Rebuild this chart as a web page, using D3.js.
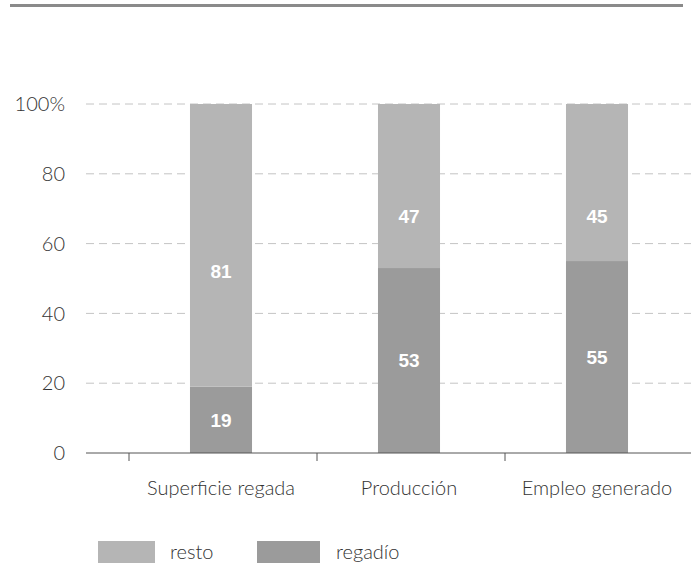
<!DOCTYPE html>
<html>
<head>
<meta charset="utf-8">
<script src="https://cdn.jsdelivr.net/npm/d3@7"></script>
<style>
    body { margin: 0; background: #fff; }
    svg { display: block; font-family: Lato, "Liberation Sans", Arial, sans-serif; }
</style>
</head>
<body>
<div id="chart"></div>
<script>
const categories = ['Superficie regada', 'Producción', 'Empleo generado'];
const regadio = [19, 53, 55];
const resto = [81, 47, 45];
// where the upper numbers sit on the bar, in percent
const restoLabelAt = [52, 68, 68];
const yTicks = [0, 20, 40, 60, 80, 100];
const seriesNames = ['resto', 'regadío'];

const W = 691, H = 567;
const COLOR_RESTO = '#b5b5b5';
const COLOR_REGADIO = '#9b9b9b';

const svg = d3.select('#chart').append('svg')
    .attr('width', W)
    .attr('height', H);

// top rule
svg.append('rect')
    .attr('x', 10).attr('y', 4)
    .attr('width', 673).attr('height', 3)
    .attr('fill', '#8a8a8a');

const y = d3.scaleLinear().domain([0, 100]).range([453, 104]);
const x = d3.scaleBand().domain(categories).range([127, 691]).padding(0);
const barW = x.bandwidth() * 0.33;
const cx = d => x(d) + x.bandwidth() / 2;

// grid
svg.append('g')
    .selectAll('line')
    .data(yTicks.filter(t => t > 0))
    .enter()
    .append('line')
    .attr('x1', 86).attr('x2', 691)
    .attr('y1', d => y(d)).attr('y2', d => y(d))
    .attr('stroke', '#c4c4c4')
    .attr('stroke-width', 1)
    .attr('stroke-dasharray', '8,5');

// y labels
svg.append('g')
    .selectAll('text')
    .data(yTicks)
    .enter()
    .append('text')
    .attr('x', 65)
    .attr('y', d => y(d))
    .attr('dy', '0.36em')
    .attr('text-anchor', 'end')
    .attr('font-size', 20)
    .attr('font-weight', 300)
    .attr('fill', '#333')
    .text(d => d === 100 ? '100%' : d);

// bars
const bars = svg.append('g');
bars.selectAll('rect.regadio')
    .data(categories)
    .enter()
    .append('rect')
    .attr('class', 'regadio')
    .attr('x', d => cx(d) - barW / 2)
    .attr('width', barW)
    .attr('y', (d, i) => y(regadio[i]))
    .attr('height', (d, i) => y(0) - y(regadio[i]))
    .attr('fill', COLOR_REGADIO);

bars.selectAll('rect.resto')
    .data(categories)
    .enter()
    .append('rect')
    .attr('class', 'resto')
    .attr('x', d => cx(d) - barW / 2)
    .attr('width', barW)
    .attr('y', (d, i) => y(regadio[i] + resto[i]))
    .attr('height', (d, i) => y(regadio[i]) - y(regadio[i] + resto[i]))
    .attr('fill', COLOR_RESTO);

// bar numbers
const labels = svg.append('g')
    .attr('font-family', '"Liberation Sans", Arial, sans-serif')
    .attr('font-size', 19)
    .attr('font-weight', 'bold')
    .attr('fill', '#fff')
    .attr('text-anchor', 'middle');

labels.selectAll('text.lo')
    .data(categories)
    .enter()
    .append('text')
    .attr('x', d => cx(d))
    .attr('y', (d, i) => y(regadio[i] / 2))
    .attr('dy', '0.36em')
    .text((d, i) => regadio[i]);

labels.selectAll('text.hi')
    .data(categories)
    .enter()
    .append('text')
    .attr('x', d => cx(d))
    .attr('y', (d, i) => y(restoLabelAt[i]))
    .attr('dy', '0.36em')
    .text((d, i) => resto[i]);

// x axis
svg.append('line')
    .attr('x1', 86).attr('x2', 691)
    .attr('y1', y(0)).attr('y2', y(0))
    .attr('stroke', '#555');

svg.append('g')
    .selectAll('line')
    .data(d3.range(categories.length + 1))
    .enter()
    .append('line')
    .attr('x1', i => 129 + i * x.step()).attr('x2', i => 129 + i * x.step())
    .attr('y1', y(0)).attr('y2', y(0) + 8)
    .attr('stroke', '#555');

svg.append('g')
    .selectAll('text')
    .data(categories)
    .enter()
    .append('text')
    .attr('x', d => cx(d))
    .attr('y', 495)
    .attr('text-anchor', 'middle')
    .attr('font-size', 20)
    .attr('font-weight', 300)
    .attr('fill', '#333')
    .text(d => d);

// legend
const legend = svg.append('g');
const legendX = [98, 257];
const legendColors = [COLOR_RESTO, COLOR_REGADIO];
legend.selectAll('rect')
    .data(seriesNames)
    .enter()
    .append('rect')
    .attr('x', (d, i) => legendX[i])
    .attr('y', 541)
    .attr('width', (d, i) => i === 0 ? 57 : 63)
    .attr('height', 22)
    .attr('fill', (d, i) => legendColors[i]);

legend.selectAll('text')
    .data(seriesNames)
    .enter()
    .append('text')
    .attr('x', (d, i) => legendX[i] + (i === 0 ? 72 : 79))
    .attr('y', 559)
    .attr('font-size', 20)
    .attr('font-weight', 300)
    .attr('fill', '#333')
    .text(d => d);
</script>
</body>
</html>
